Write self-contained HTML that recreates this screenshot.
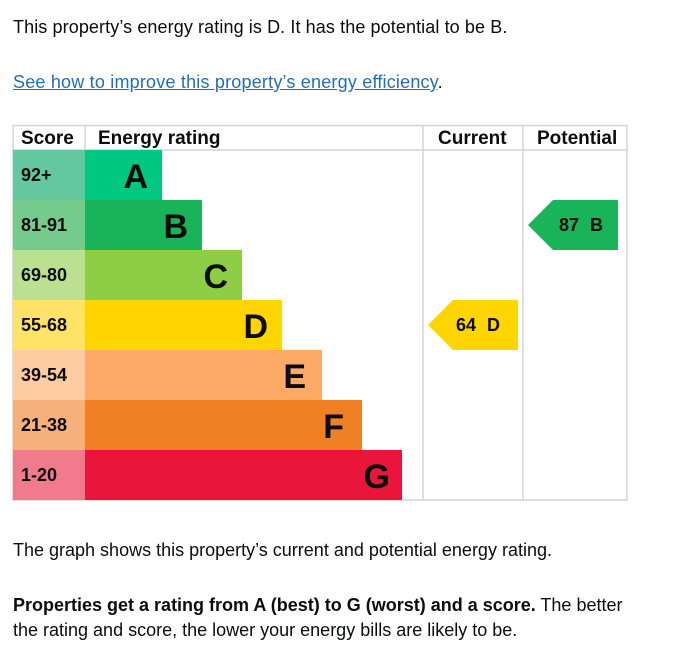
<!DOCTYPE html>
<html><head><style>
body{margin:0;background:#fff;width:673px;height:663px;overflow:hidden;font-family:"Liberation Sans",sans-serif;color:#0b0c0c}
.t{position:absolute;left:13px;font-size:18px;line-height:25px}
a{color:#1d70b8;text-decoration:underline}
</style></head><body>
<div class="t" style="top:15px;letter-spacing:0.1px">This property’s energy rating is D. It has the potential to be B.</div>
<div class="t" style="top:70px;letter-spacing:0.2px"><a>See how to improve this property’s energy efficiency</a>.</div>
<svg style="position:absolute;left:0;top:0" width="673" height="663" font-family="Liberation Sans, sans-serif" font-weight="bold">
<g stroke="#d3d3d3" stroke-width="1.5" fill="none">
<rect x="13" y="125.5" width="614" height="374.5"/>
<line x1="13" y1="150" x2="627" y2="150"/>
<line x1="85" y1="125" x2="85" y2="150"/>
<line x1="423" y1="125" x2="423" y2="500"/>
<line x1="523" y1="125" x2="523" y2="500"/>
</g>
<g font-size="19" fill="#0b0c0c">
<text x="21" y="144">Score</text>
<text x="98" y="144">Energy rating</text>
<text x="438" y="144">Current</text>
<text x="537" y="144">Potential</text>
</g>
<rect x="13" y="150" width="72" height="50" fill="#63c7a0"/><rect x="85" y="150" width="77" height="50" fill="#00c781"/>
<rect x="13" y="200" width="72" height="50" fill="#75cb8b"/><rect x="85" y="200" width="117" height="50" fill="#19b459"/>
<rect x="13" y="250" width="72" height="50" fill="#bbe190"/><rect x="85" y="250" width="157" height="50" fill="#8dce46"/>
<rect x="13" y="300" width="72" height="50" fill="#ffe366"/><rect x="85" y="300" width="197" height="50" fill="#ffd500"/>
<rect x="13" y="350" width="72" height="50" fill="#fdcca2"/><rect x="85" y="350" width="237" height="50" fill="#fcaa65"/>
<rect x="13" y="400" width="72" height="50" fill="#f5b07b"/><rect x="85" y="400" width="277" height="50" fill="#ef8023"/>
<rect x="13" y="450" width="72" height="50" fill="#f27a8d"/><rect x="85" y="450" width="317" height="50" fill="#e9153b"/>
<g font-size="18" fill="#0b0c0c">
<text x="21" y="181">92+</text><text x="21" y="231">81-91</text><text x="21" y="281">69-80</text>
<text x="21" y="331">55-68</text><text x="21" y="381">39-54</text><text x="21" y="431">21-38</text><text x="21" y="481">1-20</text>
</g>
<g font-size="34" fill="#0b0c0c" text-anchor="end">
<text x="148" y="188">A</text><text x="188" y="238">B</text><text x="228" y="288">C</text>
<text x="268" y="338">D</text><text x="306" y="388">E</text><text x="344" y="438">F</text><text x="390" y="488">G</text>
</g>
<polygon points="528,225 553,200 618,200 618,250 553,250" fill="#19b459"/>
<polygon points="428,325 453,300 518,300 518,350 453,350" fill="#ffd500"/>
<g font-size="18" fill="#0b0c0c">
<text x="559" y="231">87</text><text x="590" y="231">B</text>
<text x="456" y="331">64</text><text x="487" y="331">D</text>
</g>
</svg>
<div class="t" style="top:538px">The graph shows this property’s current and potential energy rating.</div>
<div class="t" style="top:593px;width:615px"><b>Properties get a rating from A (best) to G (worst) and a score.</b> The better the rating and score, the lower your energy bills are likely to be.</div>
</body></html>
